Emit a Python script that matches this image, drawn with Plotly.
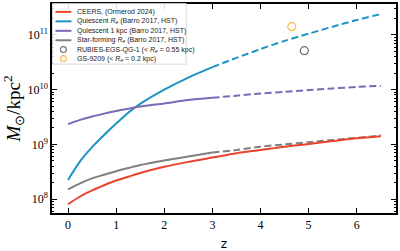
import plotly.graph_objects as go

# ---------------- data ----------------
z = [0, 0.25, 0.5, 0.75, 1, 1.25, 1.5, 2, 2.5, 3, 3.5, 4, 4.5, 5, 5.5, 6, 6.5]

ceers = [8.1e7, 1.12e8, 1.45e8, 1.8e8, 2.2e8, 2.57e8, 3.0e8, 3.9e8, 4.8e8, 5.75e8,
         6.9e8, 7.9e8, 9.1e8, 1.02e9, 1.15e9, 1.29e9, 1.41e9]
quiescent_re = [2.24e8, 4.9e8, 8.9e8, 1.48e9, 2.4e9, 3.8e9, 5.5e9, 1.0e10, 1.66e10, 2.57e10,
                3.8e10, 5.5e10, 7.76e10, 1.05e11, 1.41e11, 1.86e11, 2.4e11]
quiescent_1kpc = [2.34e9, 2.8e9, 3.24e9, 3.65e9, 4.07e9, 4.47e9, 4.9e9, 5.6e9, 6.45e9, 7.1e9,
                  7.75e9, 8.5e9, 9.1e9, 9.8e9, 1.05e10, 1.12e10, 1.17e10]
starforming_re = [1.51e8, 1.95e8, 2.4e8, 2.8e8, 3.24e8, 3.7e8, 4.2e8, 5.1e8, 6.0e8, 7.1e8,
                  7.9e8, 9.1e8, 1.0e9, 1.1e9, 1.2e9, 1.32e9, 1.45e9]

z_split = 3  # solid up to here, dashed beyond

rubies_z = [4.91]
rubies_m = [5.15e10]
gs9209_z = [4.65]
gs9209_m = [1.41e11]

y_tickvals = [1e8, 1e9, 1e10, 1e11]
y_ticktext = ["10<sup>8</sup>", "10<sup>9</sup>", "10<sup>10</sup>", "10<sup>11</sup>"]
x_tickvals = [0, 1, 2, 3, 4, 5, 6]

legend_labels = [
    "CEERS, (Ormerod 2024)",
    "Quiescent <i>R</i><sub><i>e</i></sub> (Barro 2017, HST)",
    "Quiescent 1 kpc (Barro 2017, HST)",
    "Star-forming <i>R</i><sub><i>e</i></sub> (Barro 2017, HST)",
    "RUBIES-EGS-QG-1 (&lt; <i>R</i><sub><i>e</i></sub> = 0.55 kpc)",
    "GS-9209 (&lt; <i>R</i><sub><i>e</i></sub> = 0.2 kpc)",
]

# ---------------- styles ----------------
RED = "#e8432c"
BLUE = "#1b93c3"
PURPLE = "#7b68b6"
GRAY = "#7f7f7f"
ORANGE = "#f9b94c"
PTGRAY = "#707070"
DASH = "7px,3.5px"

idx = z.index(z_split)

fig = go.Figure()

def add_curve(vals, color, dashed_tail=True):
    if dashed_tail:
        fig.add_trace(go.Scatter(x=z[:idx + 1], y=vals[:idx + 1], mode="lines",
                                 line=dict(color=color, width=2, shape="spline", smoothing=0.8),
                                 showlegend=False))
        fig.add_trace(go.Scatter(x=z[idx:], y=vals[idx:], mode="lines",
                                 line=dict(color=color, width=2, shape="spline", smoothing=0.8,
                                           dash=DASH),
                                 showlegend=False))
    else:
        fig.add_trace(go.Scatter(x=z, y=vals, mode="lines",
                                 line=dict(color=color, width=2, shape="spline", smoothing=0.8),
                                 showlegend=False))

add_curve(quiescent_re, BLUE)
add_curve(quiescent_1kpc, PURPLE)
add_curve(starforming_re, GRAY)
add_curve(ceers, RED, dashed_tail=False)

fig.add_trace(go.Scatter(x=rubies_z, y=rubies_m, mode="markers",
                         marker=dict(symbol="circle-open", size=8, color=PTGRAY,
                                     line=dict(width=1.2, color=PTGRAY)),
                         showlegend=False))
fig.add_trace(go.Scatter(x=gs9209_z, y=gs9209_m, mode="markers",
                         marker=dict(symbol="circle-open", size=8, color=ORANGE,
                                     line=dict(width=1.2, color=ORANGE)),
                         showlegend=False))

# ---------------- layout ----------------
W, H = 400, 251
L, R, T, B = 52, 398, 2, 214  # plot area in pixels

def px(xp):
    return (xp - L) / (R - L)

def py(yp):
    return (B - yp) / (B - T)

minor_vals = [k * 10 ** n for n in range(7, 12) for k in range(2, 10)]

fig.update_layout(
    width=W, height=H,
    margin=dict(l=L, r=W - R, t=T, b=H - B),
    paper_bgcolor="white", plot_bgcolor="white",
    showlegend=False,
    xaxis=dict(range=[-0.333, 6.816], tickvals=x_tickvals, ticks="inside", ticklen=5,
               tickwidth=1, tickcolor="black", showline=True, linecolor="black",
               linewidth=1.5, mirror="allticks", showgrid=False, zeroline=False,
               tickfont=dict(family="Liberation Serif", size=12, color="black"),
               title=dict(text="z", font=dict(family="DejaVu Sans", size=12, color="black"),
                          standoff=8)),
    yaxis=dict(type="log", range=[7.748, 11.563], tickmode="array", tickvals=y_tickvals,
               ticktext=y_ticktext, ticks="inside", ticklen=5, tickwidth=1,
               tickcolor="black", showline=True, linecolor="black", linewidth=1.5,
               mirror="allticks", showgrid=False, zeroline=False,
               tickfont=dict(family="Liberation Serif", size=12, color="black"),
               minor=dict(tickmode="array", tickvals=minor_vals, ticks="inside", ticklen=2.5,
                          tickwidth=0.8, tickcolor="black", showgrid=False),
               title=dict(text="<i>M</i><sub>⊙</sub>/kpc<sup>2</sup>",
                          font=dict(family="Liberation Serif", size=19, color="black"),
                          standoff=6)),
)

# ---------------- hand-built legend (compact, like matplotlib) ----------------
fig.add_shape(type="rect", xref="paper", yref="paper",
              x0=px(52.5), x1=px(187), y0=py(63), y1=py(1.5),
              line=dict(color="#cfcfcf", width=0.8), fillcolor="rgba(255,255,255,0.85)",
              layer="above")
row_y = [10, 19.6, 29.2, 38.8, 48.2, 57.4]
line_colors = [RED, BLUE, PURPLE, GRAY]
for i, lab in enumerate(legend_labels):
    yy = py(row_y[i])
    if i < 4:
        fig.add_shape(type="line", xref="paper", yref="paper",
                      x0=px(55.5), x1=px(71.5), y0=yy, y1=yy,
                      line=dict(color=line_colors[i], width=2), layer="above")
    else:
        c = PTGRAY if i == 4 else ORANGE
        fig.add_shape(type="circle", xref="paper", yref="paper",
                      x0=px(60.5), x1=px(66.5), y0=py(row_y[i] + 3), y1=py(row_y[i] - 3),
                      line=dict(color=c, width=1.1), layer="above")
    fig.add_annotation(x=px(75), y=yy, xref="paper", yref="paper", text=lab,
                       showarrow=False, xanchor="left", yanchor="middle",
                       font=dict(family="Liberation Sans", size=7, color="#222"))

fig.write_html("out.html")
